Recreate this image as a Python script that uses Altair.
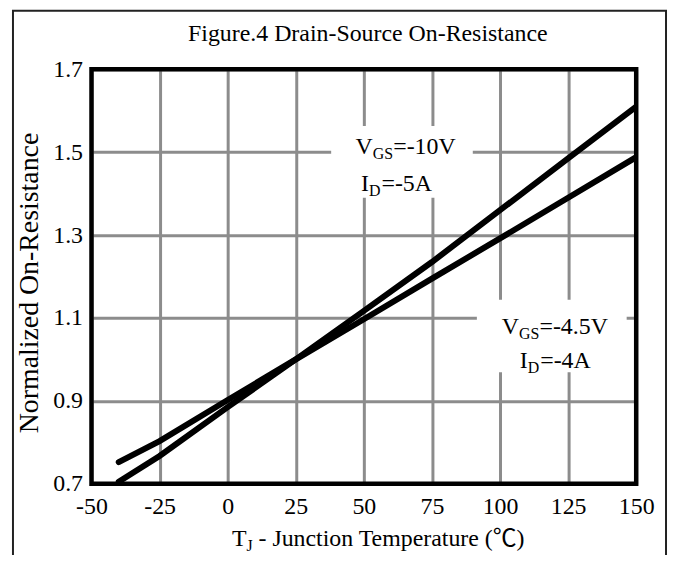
import altair as alt
import pandas as pd

# ---------------- data ----------------
temperature = [-40, -25, 0, 25, 50, 75, 100, 125, 150]
ron_vgs10 = [0.705, 0.767, 0.885, 1.0, 1.117, 1.235, 1.36, 1.485, 1.61]
ron_vgs45 = [0.752, 0.803, 0.902, 1.0, 1.097, 1.195, 1.292, 1.39, 1.488]
series_names = ["VGS=-10V", "VGS=-4.5V"]

x_ticks = [-50, -25, 0, 25, 50, 75, 100, 125, 150]
y_ticks = [0.7, 0.9, 1.1, 1.3, 1.5, 1.7]

# annotation label boxes (data units)
box_x1 = [38, 91.5]
box_x2 = [90, 146.5]
box_y1 = [1.39, 0.969]
box_y2 = [1.563, 1.144]

# annotation text pieces: main letter, subscript, rest
label_main = ["V", "I", "V", "I"]
label_sub = ["GS", "D", "GS", "D"]
label_rest = ["=-10V", "=-5A", "=-4.5V", "=-4A"]
label_x = [53.3, 51.9, 107.0, 110.2]
label_y = [1.512, 1.424, 1.079, 0.997]
sub_width_px = [20.5, 12.5, 20.5, 12.5]

title_text = "Figure.4 Drain-Source On-Resistance"
y_title = "Normalized On-Resistance"
x_title_main, x_title_sub, x_title_rest = "T", "J", "- Junction Temperature (℃)"

# ---------------- layout ----------------
SERIF = "Liberation Serif, Times New Roman, Noto Sans CJK SC, serif"
W, H = 548, 417
px_x = (x_ticks[-1] - x_ticks[0]) / W
px_y = (y_ticks[-1] - y_ticks[0]) / H

xs = alt.Scale(domain=[x_ticks[0], x_ticks[-1]], nice=False, zero=False)
ys = alt.Scale(domain=[y_ticks[0], y_ticks[-1]], nice=False, zero=False)

GRID = "#8c8c8c"
X_AX = alt.Axis(values=x_ticks, title=None, domain=False, ticks=False, grid=True,
                gridColor=GRID, gridWidth=3, labelFont=SERIF, labelFontSize=24,
                labelColor="black", labelPadding=11, labelFlush=False, labelOverlap=False,
                labelExpr="datum.value < 0 ? '-' + abs(datum.value) : '' + datum.value")
Y_AX = alt.Axis(values=y_ticks, format=".1f", title=y_title, titleFont=SERIF,
                titleFontSize=28, titleFontWeight="normal", titleColor="black",
                titleX=-62, titleY=H / 2 + 6, titleAngle=270, titleAlign="center",
                titleBaseline="middle", domain=False, ticks=False, grid=True,
                gridColor=GRID, gridWidth=3, labelFont=SERIF, labelFontSize=24,
                labelColor="black", labelPadding=9, labelFlush=False, labelOverlap=False)


def X(field="T"):
    return alt.X(f"{field}:Q", scale=xs, axis=X_AX)


def Y(field="R"):
    return alt.Y(f"{field}:Q", scale=ys, axis=Y_AX)


curves = pd.DataFrame({
    "T": temperature + temperature,
    "R": ron_vgs10 + ron_vgs45,
    "s": [series_names[0]] * len(temperature) + [series_names[1]] * len(temperature),
})

boxes = pd.DataFrame({"T": box_x1, "T2": box_x2, "R": box_y1, "R2": box_y2})

border = pd.DataFrame({"T": [x_ticks[0]], "T2": [x_ticks[-1]],
                       "R": [y_ticks[0]], "R2": [y_ticks[-1]]})

main_df = pd.DataFrame({"T": label_x, "R": label_y, "txt": label_main})
sub_df = pd.DataFrame({"T": label_x, "R": [v - 7 * px_y for v in label_y], "txt": label_sub})
rest_df = pd.DataFrame({"T": [x + w * px_x for x, w in zip(label_x, sub_width_px)],
                        "R": label_y, "txt": label_rest})

one = pd.DataFrame({"k": [0]})

box_layer = alt.Chart(boxes).mark_rect(fill="white", stroke=None).encode(
    x=X(), x2="T2:Q", y=Y(), y2="R2:Q")

line_layer = alt.Chart(curves).mark_line(color="black", strokeWidth=6,
                                         strokeCap="round", clip=True).encode(
    x=X(), y=Y(), detail="s:N")

border_layer = alt.Chart(border).mark_rect(fillOpacity=0, stroke="black",
                                           strokeWidth=4.5).encode(
    x=X(), x2="T2:Q", y=Y(), y2="R2:Q")

main_layer = alt.Chart(main_df).mark_text(font=SERIF, fontSize=24, align="right",
                                          baseline="middle", color="black").encode(
    x=X(), y=Y(), text="txt:N")
sub_layer = alt.Chart(sub_df).mark_text(font=SERIF, fontSize=16, align="left",
                                        baseline="middle", color="black").encode(
    x=X(), y=Y(), text="txt:N")
rest_layer = alt.Chart(rest_df).mark_text(font=SERIF, fontSize=24, align="left",
                                          baseline="middle", color="black").encode(
    x=X(), y=Y(), text="txt:N")

xt_main = alt.Chart(one).mark_text(font=SERIF, fontSize=24, align="right",
                                   baseline="middle", color="black").encode(
    x=alt.value(156), y=alt.value(473), text=alt.value(x_title_main))
xt_sub = alt.Chart(one).mark_text(font=SERIF, fontSize=16, align="left",
                                  baseline="middle", color="black").encode(
    x=alt.value(156), y=alt.value(480), text=alt.value(x_title_sub))
xt_rest = alt.Chart(one).mark_text(font=SERIF, fontSize=24, align="left",
                                   baseline="middle", color="black").encode(
    x=alt.value(168), y=alt.value(473), text=alt.value(x_title_rest))

title_layer = alt.Chart(one).mark_text(font=SERIF, fontSize=24, align="center",
                                       baseline="middle", color="black").encode(
    x=alt.value(278), y=alt.value(-35), text=alt.value(title_text))

frame_layer = alt.Chart(one).mark_rect(fillOpacity=0, stroke="#222",
                                       strokeWidth=2).encode(
    x=alt.value(-79), x2=alt.value(578), y=alt.value(-59), y2=alt.value(560))

chart = alt.layer(
    box_layer, line_layer, border_layer, main_layer, sub_layer, rest_layer,
    xt_main, xt_sub, xt_rest, title_layer, frame_layer,
).properties(
    width=W, height=H,
    autosize=alt.AutoSizeParams(type="none"),
    padding={"left": 84, "top": 60, "right": 32, "bottom": 70},
    background="white",
).configure_view(stroke=None)

chart.save("out.html", embed_options={"renderer": "svg", "actions": False})
